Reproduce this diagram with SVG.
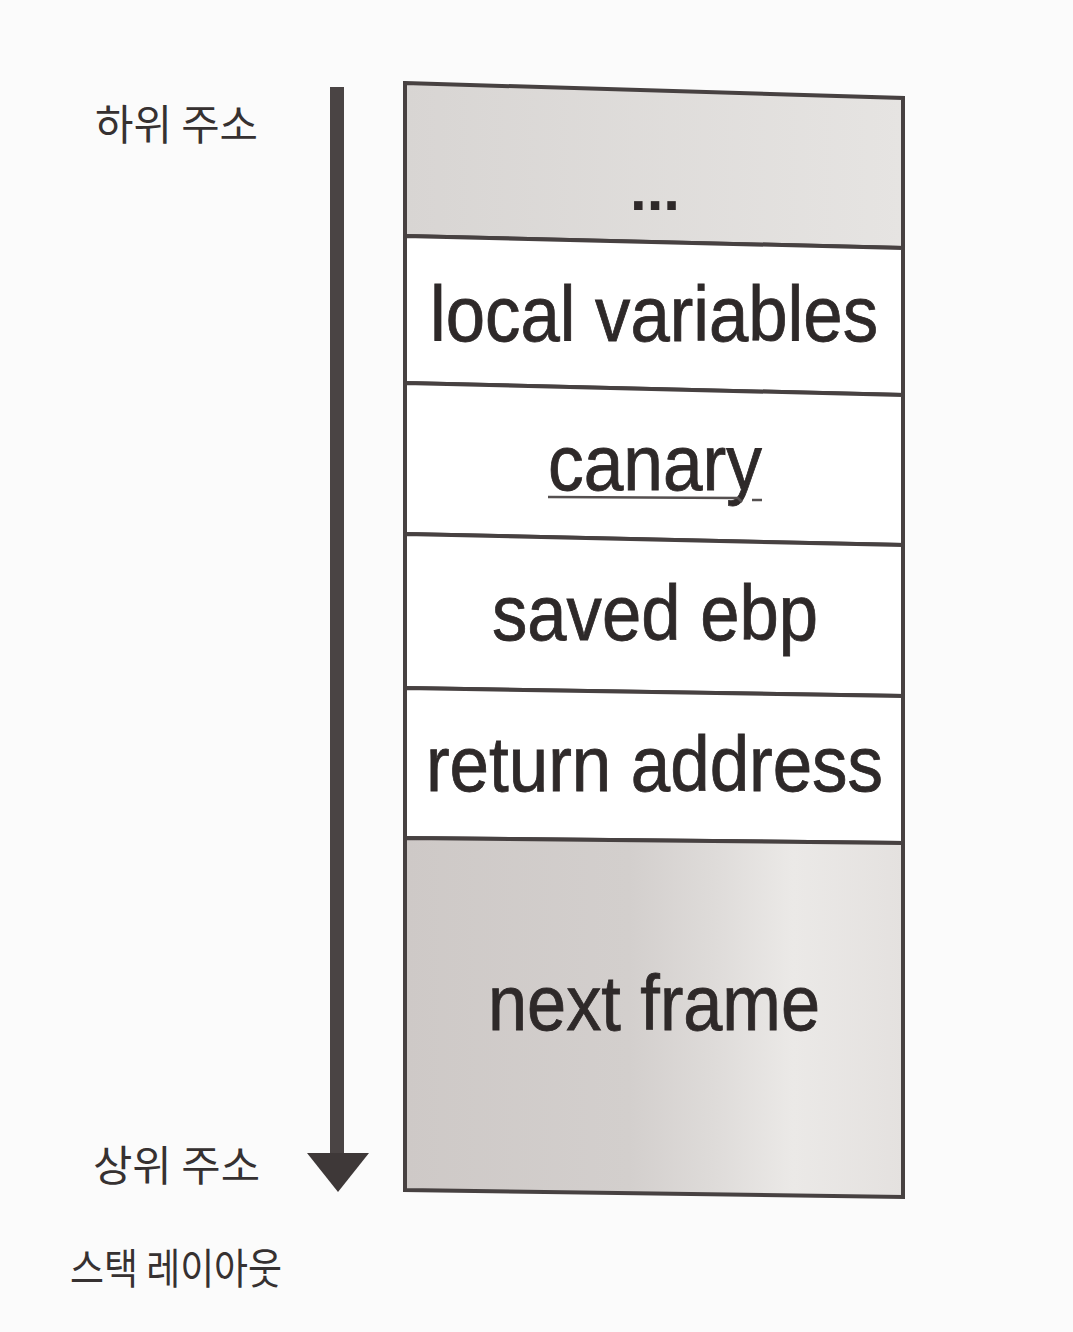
<svg xmlns="http://www.w3.org/2000/svg" width="1073" height="1332" viewBox="0 0 1073 1332">
  <defs>
    <linearGradient id="gTop" x1="0" y1="0" x2="1" y2="0">
      <stop offset="0" stop-color="#d8d5d3"/>
      <stop offset="1" stop-color="#e6e4e2"/>
    </linearGradient>
    <linearGradient id="gNext" x1="0" y1="0" x2="1" y2="0">
      <stop offset="0" stop-color="#cec9c7"/>
      <stop offset="0.45" stop-color="#d3cfcd"/>
      <stop offset="0.62" stop-color="#dedbd9"/>
      <stop offset="0.78" stop-color="#ebe9e7"/>
      <stop offset="1" stop-color="#e4e1df"/>
    </linearGradient>
  </defs>
  <style>
    .cell { stroke: #474141; stroke-width: 4; stroke-linejoin: miter; }
    .white { fill: #ffffff; }
    .lbl { font-family: "Liberation Sans", Arial, sans-serif; font-size: 77px; fill: #2e2929; stroke: #2e2929; stroke-width: 0.8; text-anchor: start; }
    .kr { font-family: "Noto Sans CJK KR", "Noto Sans", sans-serif; font-size: 42px; fill: #363131; font-weight: 400; }
  </style>
  <rect x="0" y="0" width="1073" height="1332" fill="#fbfbfb"/>

  <g id="connectors">
    <rect x="330" y="87" width="14" height="1070" fill="#4a4444"/>
    <polygon points="307,1153 369,1153 338,1192" fill="#3e3838"/>
  </g>

  <g id="cell-dots">
    <polygon class="cell" fill="url(#gTop)" points="405,83 903,98 903,248 405,236"/>
    <text x="655" y="210" style="font-family:'Liberation Sans',Arial,sans-serif;font-size:60px;font-weight:bold;fill:#2e2929" text-anchor="middle">...</text>
  </g>
  <g id="cell-local">
    <polygon class="cell white" points="405,236 903,248 903,395 405,383"/>
    <text class="lbl" x="430" y="341" textLength="448" lengthAdjust="spacingAndGlyphs">local variables</text>
  </g>
  <g id="cell-canary">
    <polygon class="cell white" points="405,383 903,395 903,545 405,534"/>
    <text class="lbl" x="548" y="490" textLength="214" lengthAdjust="spacingAndGlyphs">canary</text>
    <path d="M548,497 L738,498 L742,502" fill="none" stroke="#555050" stroke-width="2.5"/>
    <line x1="752" y1="500" x2="762" y2="500" stroke="#555050" stroke-width="2.5"/>
  </g>
  <g id="cell-ebp">
    <polygon class="cell white" points="405,534 903,545 903,696 405,688"/>
    <text class="lbl" x="492" y="640" textLength="326" lengthAdjust="spacingAndGlyphs">saved ebp</text>
  </g>
  <g id="cell-ret">
    <polygon class="cell white" points="405,688 903,696 903,843 405,838"/>
    <text class="lbl" x="426" y="791" textLength="457" lengthAdjust="spacingAndGlyphs">return address</text>
  </g>
  <g id="cell-next">
    <polygon class="cell" fill="url(#gNext)" points="405,838 903,843 903,1197 405,1190"/>
    <text class="lbl" x="488" y="1030" textLength="332" lengthAdjust="spacingAndGlyphs">next frame</text>
  </g>

  <g id="label-low">
    <text class="kr" x="95" y="140" textLength="163" lengthAdjust="spacingAndGlyphs">하위 주소</text>
  </g>
  <g id="label-high">
    <text class="kr" x="93" y="1181" textLength="167" lengthAdjust="spacingAndGlyphs">상위 주소</text>
  </g>
  <g id="caption">
    <text class="kr" x="70" y="1284" textLength="212" lengthAdjust="spacingAndGlyphs">스택 레이아웃</text>
  </g>
</svg>
